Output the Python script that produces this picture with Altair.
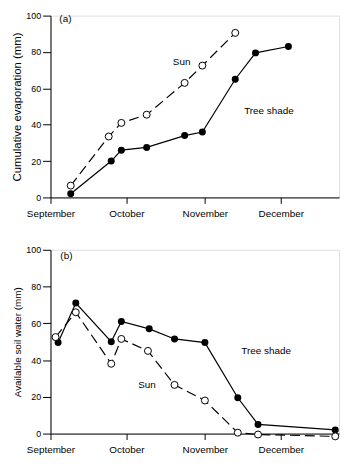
import altair as alt
import pandas as pd

# ---- data -------------------------------------------------------------
month_ticks = [0, 30, 61, 91]          # days since 1 September
month_names = ["September", "October", "November", "December"]
y_ticks = [0, 20, 40, 60, 80, 100]

# panel (a): cumulative evaporation (mm)
sun_a_day = [8, 23, 28, 38, 53, 60, 73]
sun_a_val = [6.5, 33.5, 41, 45.5, 63, 72.5, 90.5]
shade_a_day = [8, 24, 28, 38, 53, 60, 73, 81, 94]
shade_a_val = [2, 20, 26, 27.5, 34, 36, 65, 79.5, 83]

# panel (b): available soil water (mm)
shade_b_day = [3, 10, 24, 28, 39, 49, 61, 74, 82, 112.5]
shade_b_val = [49.5, 71, 50, 61, 57, 51.5, 49.5, 19.5, 5, 2]
sun_b_day = [2, 10, 24, 28, 38.5, 49, 61, 74, 82, 112.5]
sun_b_val = [52.5, 66, 38, 51.5, 45, 26.5, 18, 0.5, -0.5, -1.5]

FONT = "Liberation Sans"

# month label expression built from the lists
label_expr = "''"
for t, n in reversed(list(zip(month_ticks, month_names))):
    label_expr = f"datum.value == {t} ? '{n}' : ({label_expr})"


def panel(sun_day, sun_val, shade_day, shade_val, height, ytitle,
          ytitle_size, tag, ann):
    sun = pd.DataFrame({"day": sun_day, "val": sun_val})
    shade = pd.DataFrame({"day": shade_day, "val": shade_val})

    xs = alt.Scale(domain=[0, 114], nice=False, zero=False)
    ys = alt.Scale(domain=[0, 100], nice=False)
    xaxis = alt.Axis(values=month_ticks, labelExpr=label_expr, title=None,
                     grid=False, tickSize=6, labelPadding=5, labelFlush=False,
                     labelFontSize=10, labelFont=FONT, labelColor="black",
                     domainColor="black", tickColor="black", labelOverlap=False)
    yaxis = alt.Axis(values=y_ticks, title=ytitle, titleFont=FONT,
                     titleFontSize=ytitle_size, titleFontWeight="normal",
                     titleColor="black", titlePadding=3.5, grid=False,
                     tickSize=8, labelPadding=2, labelFlush=False,
                     labelFontSize=9, labelFont=FONT, labelColor="black",
                     domainColor="black", tickColor="black")

    x = alt.X("day:Q", scale=xs, axis=xaxis)
    y = alt.Y("val:Q", scale=ys, axis=yaxis)

    shade_line = alt.Chart(shade).mark_line(color="black", strokeWidth=1.2).encode(x=x, y=y)
    sun_line = alt.Chart(sun).mark_line(color="black", strokeWidth=1.2,
                                        strokeDash=[10, 5]).encode(x=x, y=y)
    shade_pts = alt.Chart(shade).mark_point(shape="circle", filled=True, color="black",
                                            size=50, opacity=1).encode(x=x, y=y)
    sun_pts = alt.Chart(sun).mark_point(shape="circle", filled=True, fill="white",
                                        stroke="black", strokeWidth=1, size=50,
                                        opacity=1).encode(x=x, y=y)

    tag_df = pd.DataFrame({"day": [tag[1]], "val": [tag[2]], "t": [tag[0]]})
    tag_txt = alt.Chart(tag_df).mark_text(align="left", baseline="middle",
                                          font=FONT, fontSize=10, color="black"
                                          ).encode(x=x, y=y, text="t:N")
    ann_df = pd.DataFrame({"day": [a[1] for a in ann], "val": [a[2] for a in ann],
                           "t": [a[0] for a in ann]})
    ann_txt = alt.Chart(ann_df).mark_text(align="center", baseline="middle",
                                          font=FONT, fontSize=10, color="black"
                                          ).encode(x=x, y=y, text="t:N")

    return alt.layer(shade_line, sun_line, shade_pts, sun_pts, tag_txt, ann_txt
                     ).properties(width=292, height=height)


pa = panel(sun_a_day, sun_a_val, shade_a_day, shade_a_val, 184,
           "Cumulative evaporation (mm)", 11.5, ("(a)", 3.5, 98),
           [("Sun", 51.8, 74.3), ("Tree shade", 86.3, 47.7)])
pb = panel(sun_b_day, sun_b_val, shade_b_day, shade_b_val, 186,
           "Available soil water (mm)", 10, ("(b)", 3.9, 96.4),
           [("Tree shade", 85.2, 45), ("Sun", 38.1, 26.5)])

chart = alt.vconcat(pa, pb, spacing=26).properties(
    padding={"left": 2, "top": 0, "right": 0, "bottom": 0}
).configure_view(stroke=None).configure(background="white")

chart.save("out.html", embed_options={"renderer": "svg", "actions": False})
